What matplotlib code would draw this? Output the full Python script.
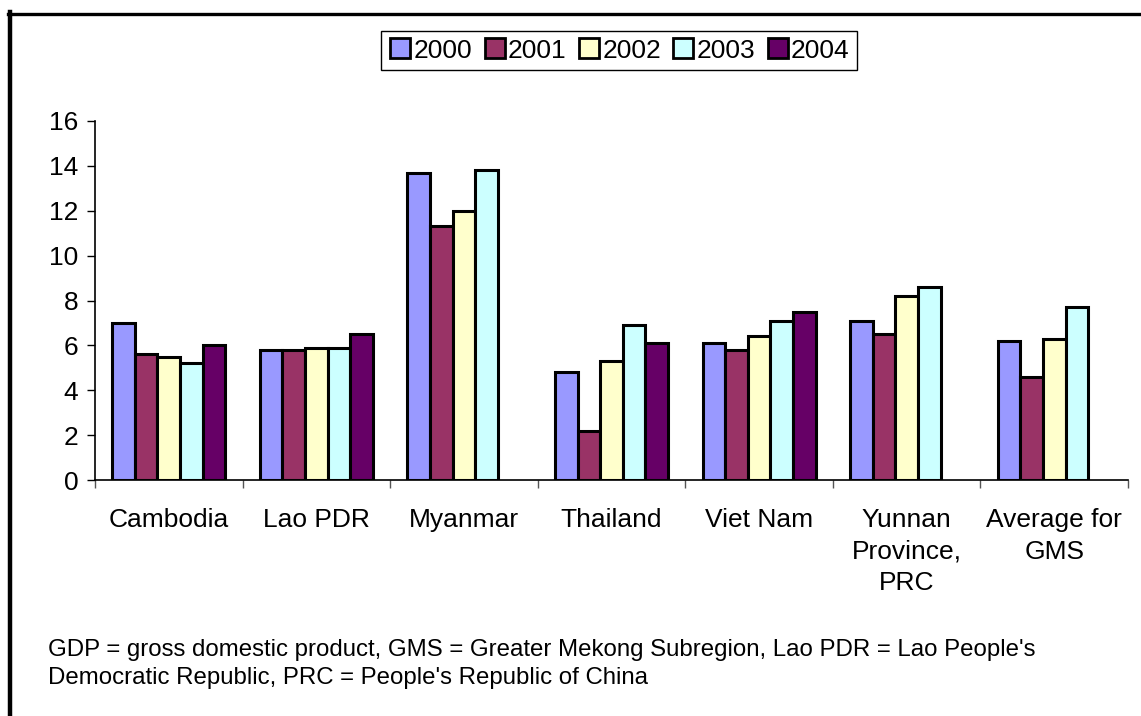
"""GDP growth by GMS member, 2000-2004, as a grouped bar chart."""

import matplotlib
matplotlib.use("Agg")
import matplotlib.pyplot as plt
import numpy as np
from matplotlib.lines import Line2D

plt.rcParams["font.family"] = ["Liberation Sans", "DejaVu Sans"]

CATEGORIES = ["Cambodia", "Lao PDR", "Myanmar", "Thailand", "Viet Nam",
              "Yunnan\nProvince,\nPRC", "Average for\nGMS"]
YEARS = ["2000", "2001", "2002", "2003", "2004"]
NAN = np.nan
G2000 = [7.0, 5.8, 13.7, 4.8, 6.1, 7.1, 6.2]
G2001 = [5.6, 5.8, 11.3, 2.2, 5.8, 6.5, 4.6]
G2002 = [5.5, 5.9, 12.0, 5.3, 6.4, 8.2, 6.3]
G2003 = [5.2, 5.9, 13.8, 6.9, 7.1, 8.6, 7.7]
G2004 = [6.0, 6.5, NAN, 6.1, 7.5, NAN, NAN]
COLORS = ["#9999FF", "#993366", "#FFFFCC", "#CCFFFF", "#660066"]
FOOTNOTE = ("GDP = gross domestic product, GMS = Greater Mekong Subregion, "
            "Lao PDR = Lao People's\nDemocratic Republic, PRC = People's "
            "Republic of China")

W, H = 1141, 716
fig = plt.figure(figsize=(W / 100, H / 100), dpi=100)
ax = fig.add_axes([95 / W, 1 - 480 / H, (1128 - 95) / W, (480 - 121) / H])

series = [G2000, G2001, G2002, G2003, G2004]
x = np.arange(len(CATEGORIES))
bw = 0.153
for i, (vals, col) in enumerate(zip(series, COLORS)):
    ax.bar(x + (i - 2) * bw, vals, width=bw, color=col,
           edgecolor="black", linewidth=2.2, zorder=3)

ax.set_xlim(-0.5, len(CATEGORIES) - 0.5)
ax.set_ylim(0, 16)
ax.set_yticks(range(0, 17, 2))
ax.tick_params(axis="y", labelsize=19, length=6, width=1, pad=6)
ax.set_xticks(np.arange(-0.5, len(CATEGORIES), 1.0))
ax.set_xticklabels([])
ax.tick_params(axis="x", length=6, width=1, color="#555555")
for s in ("top", "right"):
    ax.spines[s].set_visible(False)
for s in ("left", "bottom"):
    ax.spines[s].set_linewidth(1.2)

for xi, name in zip(x, CATEGORIES):
    ax.text(xi, -1.25, name, ha="center", va="top", fontsize=19,
            linespacing=1.4, transform=ax.transData)

handles = [Line2D([0], [0], marker="s", linestyle="none", markersize=14,
                  markerfacecolor=c, markeredgecolor="black",
                  markeredgewidth=2.0) for c in COLORS]
fig.legend(handles, YEARS, loc="center", bbox_to_anchor=(619 / W, 1 - 50.5 / H),
           ncol=5, fontsize=19, frameon=True, fancybox=False,
           edgecolor="black", framealpha=1, handletextpad=0.05,
           columnspacing=0.4, borderpad=0.3, handlelength=0.9)

fig.text(48 / W, 1 - 639 / H, FOOTNOTE, ha="left", va="top", fontsize=17.3,
         linespacing=1.36)

# outer frame: left and top edges only
fig.add_artist(Line2D([9.5 / W, 9.5 / W], [0, 1 - 12 / H], color="black",
                      linewidth=3.2, transform=fig.transFigure))
fig.add_artist(Line2D([8 / W, 1], [1 - 13.5 / H, 1 - 13.5 / H],
                      color="black", linewidth=2.4,
                      transform=fig.transFigure))

fig.savefig("out.png", dpi=100)
